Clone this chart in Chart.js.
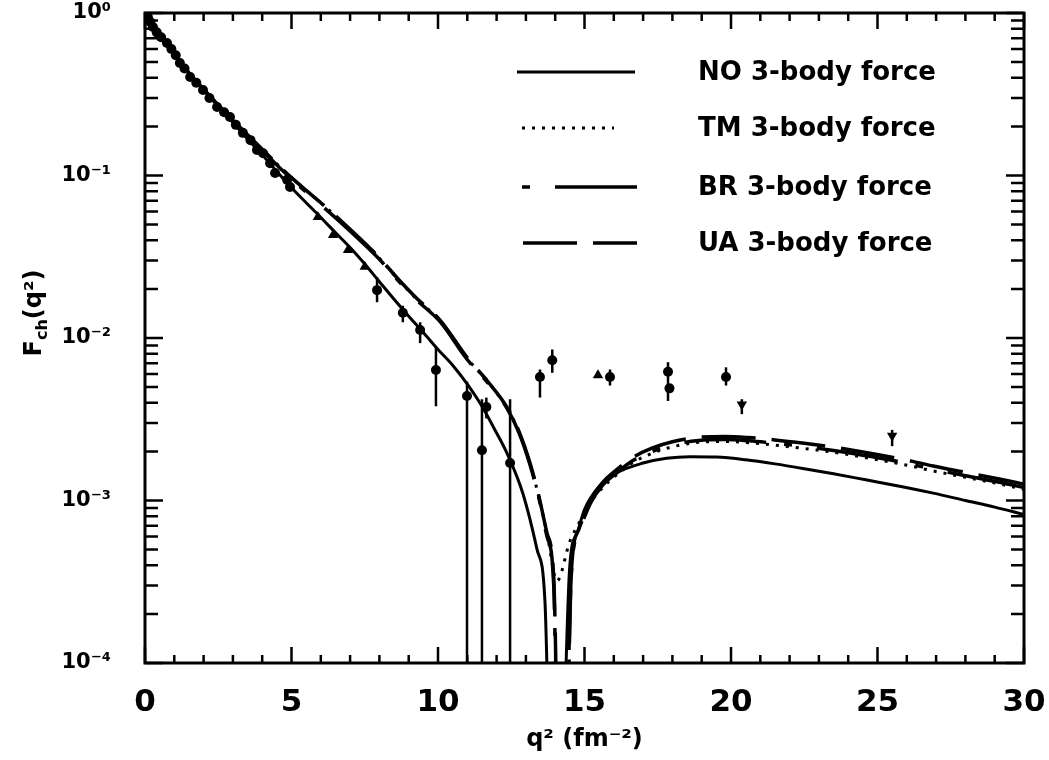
<!DOCTYPE html>
<html><head><meta charset="utf-8">
<script src="https://cdn.jsdelivr.net/npm/chart.js@4/dist/chart.umd.min.js"></script>
<style>html,body{margin:0;padding:0;background:#fff}#wrap{width:1049px;height:760px}</style>
</head><body><div id="wrap"><canvas id="c" width="1049" height="760"></canvas></div>
<script>
// ---- data ----
const xTickValues = [0, 5, 10, 15, 20, 25, 30];
const yDecadeLabels = {1: '10\u2070', 0.1: '10\u207B\u00B9', 0.01: '10\u207B\u00B2', 0.001: '10\u207B\u00B3', 0.0001: '10\u207B\u2074'};
const seriesLabels = ['NO 3-body force', 'TM 3-body force', 'BR 3-body force', 'UA 3-body force'];

const qNO = [0,0.25,0.5,0.75,1,1.25,1.5,1.75,2,2.5,3,3.5,4,4.5,5,5.5,6,6.5,7,7.5,8,8.5,9,9.5,10,10.5,11,11.5,12,12.35,12.9,13.38,13.65,14.0,14.5,14.75,15,15.5,16.1,17,17.8,18.6,19.5,20.5,21.5,22.5,23.5,24.6,25.8,26.9,28,29,30];
const fNO = [1,0.86,0.74,0.645,0.565,0.49,0.425,0.375,0.335,0.265,0.212,0.168,0.134,0.106,0.084,0.068,0.0552,0.0445,0.036,0.0285,0.0222,0.0173,0.0136,0.0108,0.0085,0.0068,0.0052,0.0038,0.0026,0.00196,0.0011,0.0005,0.00024,0.000001,0.0004,0.00063,0.00088,0.00122,0.00148,0.0017,0.00182,0.00186,0.00185,0.00178,0.00168,0.00157,0.00146,0.00134,0.00122,0.00111,0.001,0.00091,0.00082];

const qUA = [0,0.5,1,1.5,2,2.5,3,3.5,4,4.5,5,5.5,6,6.66,7.3,8,8.6,9.28,10.07,10.99,11.7,12.35,12.75,13.14,13.45,13.72,13.95,14.25,14.55,14.8,15.2,15.6,16.1,16.65,17.3,18,18.9,19.8,20.6,21.5,22.5,23.5,24.5,25.4,26.2,26.9,28,29.2,30];
const fUA = [1,0.74,0.565,0.428,0.34,0.272,0.22,0.178,0.145,0.118,0.097,0.081,0.068,0.0532,0.0415,0.0312,0.0235,0.0175,0.0129,0.0076,0.0054,0.00376,0.0027,0.0017,0.00105,0.00063,0.00033,0.000001,0.00036,0.00066,0.001,0.00128,0.00155,0.00184,0.0021,0.0023,0.00245,0.00248,0.00244,0.00236,0.00225,0.00213,0.00199,0.00186,0.00174,0.00163,0.00149,0.00135,0.00126];

const qBR = [0,0.5,1,1.5,2,2.5,3,3.5,4,4.5,5,5.5,6,6.66,7.3,8,8.6,9.28,10.07,10.99,11.7,12.35,12.75,13.14,13.45,13.72,13.95,14.2,14.55,14.8,15.2,15.6,16.1,16.65,17.3,18,18.9,19.8,20.6,21.5,22.5,23.5,24.5,25.4,26.2,26.9,28,29.2,30];
const fBR = [1,0.74,0.563,0.426,0.338,0.27,0.218,0.176,0.143,0.116,0.095,0.079,0.066,0.0518,0.0405,0.0305,0.023,0.0171,0.0126,0.0074,0.0053,0.0037,0.00265,0.00166,0.00102,0.0006,0.0003,0.000001,0.00035,0.00063,0.00096,0.00123,0.00148,0.00176,0.002,0.0022,0.00234,0.00237,0.00233,0.00225,0.00215,0.00203,0.0019,0.00178,0.00166,0.00156,0.00142,0.00129,0.0012];

const qTM = [0,0.5,1,1.5,2,2.5,3,3.5,4,4.5,5,5.5,6,6.66,7.3,8,8.6,9.28,10.07,10.99,11.7,12.35,12.75,13.14,13.45,13.72,14.06,14.5,14.8,15.2,15.6,16.1,16.65,17.3,18,18.9,19.8,20.6,21.5,22.5,23.5,24.5,25.4,26.2,26.9,28,29.2,30];
const fTM = [1,0.74,0.565,0.428,0.34,0.272,0.22,0.178,0.145,0.118,0.097,0.081,0.068,0.053,0.0413,0.031,0.0233,0.0173,0.0128,0.0075,0.0054,0.00372,0.00268,0.00168,0.00104,0.00063,0.00032,0.00056,0.00072,0.00097,0.00119,0.00144,0.00171,0.00195,0.00214,0.00228,0.00231,0.00227,0.00219,0.00209,0.00198,0.00185,0.00173,0.00162,0.00152,0.00139,0.00126,0.00117];

// measured points (circles)
const ptQ  = [0.05,0.1,0.18,0.27,0.4,0.55,0.75,0.9,1.05,1.19,1.35,1.54,1.75,1.98,2.2,2.46,2.7,2.9,3.1,3.34,3.6,3.82,4.03,4.27,4.44,4.85,4.95,7.92,8.8,9.39,9.93,10.99,11.5,11.65,12.46,13.48,13.9,15.87,17.85,17.9,19.83];
const ptF  = [0.97,0.94,0.88,0.82,0.76,0.71,0.653,0.6,0.55,0.492,0.455,0.404,0.372,0.336,0.3,0.264,0.245,0.229,0.205,0.183,0.165,0.1435,0.137,0.119,0.1035,0.094,0.085,0.0197,0.0143,0.0112,0.00635,0.0044,0.00204,0.00376,0.0017,0.00575,0.0073,0.00575,0.0062,0.0049,0.00575];
const ptLo = [null,null,null,null,null,null,null,null,null,null,null,null,null,null,null,null,null,null,null,null,null,null,null,null,null,null,null,0.0166,0.0125,0.0093,0.0038,0.000001,0.000001,0.0032,0.000001,0.0043,0.0061,0.0051,0.0041,null,0.0051];
const ptHi = [null,null,null,null,null,null,null,null,null,null,null,null,null,null,null,null,null,null,null,null,null,null,null,null,null,null,null,0.0237,0.0158,0.0125,0.0087,0.0054,0.0042,0.0043,0.0042,0.0064,0.0085,0.0064,0.0071,null,0.0066];

// measured points (up triangles)
const triQ  = [5.9,6.42,6.93,7.5,15.46];
const triF  = [0.0556,0.043,0.0348,0.0274,0.0059];
const triLo = [null,null,null,null,null];
const triHi = [null,null,null,null,null];

// measured points (down triangles)
const dnQ  = [20.37,25.5];
const dnF  = [0.0039,0.0025];
const dnLo = [0.0034,0.00216];
const dnHi = [0.0042,0.00272];

const toXY = (qs, fs) => qs.map((q, i) => ({x: q, y: fs[i]}));

// ---- plugins ----
const FONT = '"DejaVu Sans", "Liberation Sans", sans-serif';

const frameTicks = {
  id: 'frameTicks',
  afterDatasetsDraw(chart) {
    const {ctx, chartArea: a, scales: {x, y}} = chart;
    ctx.save();
    ctx.strokeStyle = '#000';
    ctx.lineWidth = 2.5;
    ctx.lineCap = 'butt';
    ctx.beginPath();
    for (let v = 0; v <= 30; v++) {
      const len = v % 5 === 0 ? 16 : 8;
      const px = x.getPixelForValue(v);
      ctx.moveTo(px, a.bottom); ctx.lineTo(px, a.bottom - len);
      ctx.moveTo(px, a.top); ctx.lineTo(px, a.top + len);
    }
    for (let e = -4; e <= 0; e++) {
      for (let m = 1; m <= 9; m++) {
        const v = m * Math.pow(10, e);
        if (v > 1.0000001) break;
        const len = m === 1 ? 18 : 13;
        const py = y.getPixelForValue(v);
        ctx.moveTo(a.left, py); ctx.lineTo(a.left + len, py);
        ctx.moveTo(a.right, py); ctx.lineTo(a.right - len, py);
      }
    }
    ctx.stroke();
    ctx.lineWidth = 3;
    ctx.strokeRect(a.left, a.top, a.right - a.left, a.bottom - a.top);
    ctx.restore();
  }
};

const errorBars = {
  id: 'errorBars',
  afterDatasetsDraw(chart) {
    const {ctx, chartArea: a, scales: {x, y}} = chart;
    ctx.save();
    ctx.beginPath();
    ctx.rect(a.left, a.top, a.right - a.left, a.bottom - a.top);
    ctx.clip();
    ctx.strokeStyle = '#000';
    ctx.lineWidth = 2.5;
    chart.data.datasets.forEach(ds => {
      if (!ds.errLo) return;
      ds.data.forEach((p, j) => {
        const lo = ds.errLo[j], hi = ds.errHi[j];
        if (lo == null || hi == null) return;
        const px = x.getPixelForValue(p.x);
        ctx.beginPath();
        ctx.moveTo(px, y.getPixelForValue(lo));
        ctx.lineTo(px, y.getPixelForValue(hi));
        ctx.stroke();
      });
    });
    ctx.restore();
  }
};

const customLegend = {
  id: 'customLegend',
  afterDraw(chart, args, opts) {
    const {ctx} = chart;
    ctx.save();
    ctx.font = 'bold 26px ' + FONT;
    ctx.textBaseline = 'middle';
    ctx.fillStyle = '#000';
    chart.data.datasets.forEach(ds => {
      if (!ds.showLine) return;
      const idx = seriesLabels.indexOf(ds.label);
      const yy = opts.rows[idx];
      const [x0, x1] = opts.samples[idx];
      ctx.strokeStyle = '#000';
      ctx.lineWidth = ds.borderWidth;
      ctx.lineCap = 'butt';
      ctx.setLineDash(ds.borderDash || []);
      ctx.lineDashOffset = opts.dashOffsets[idx];
      ctx.beginPath();
      ctx.moveTo(x0, yy); ctx.lineTo(x1, yy);
      ctx.stroke();
      ctx.setLineDash([]);
      ctx.fillText(ds.label, opts.textX, yy + 1);
    });
    ctx.restore();
  }
};

const yTitle = {
  id: 'yTitle',
  afterDraw(chart, args, opts) {
    const {ctx} = chart;
    ctx.save();
    ctx.translate(opts.x, opts.y);
    ctx.rotate(-Math.PI / 2);
    ctx.fillStyle = '#000';
    ctx.textBaseline = 'alphabetic';
    const big = 'bold 24px ' + FONT, small = 'bold 16px ' + FONT;
    ctx.font = big; const wF = ctx.measureText('F').width;
    ctx.font = small; const wS = ctx.measureText('ch').width;
    ctx.font = big; const wQ = ctx.measureText('(q\u00B2)').width;
    let cx = -(wF + wS + wQ) / 2;
    const base = 9;
    ctx.font = big; ctx.fillText('F', cx, base); cx += wF;
    ctx.font = small; ctx.fillText('ch', cx, base + 6); cx += wS;
    ctx.font = big; ctx.fillText('(q\u00B2)', cx, base);
    ctx.restore();
  }
};

// ---- chart ----
new Chart(document.getElementById('c'), {
  type: 'scatter',
  data: {
    datasets: [
      {label: seriesLabels[0], data: toXY(qNO, fNO), showLine: true, borderColor: '#000', borderWidth: 3, pointRadius: 0, cubicInterpolationMode: 'monotone'},
      {label: seriesLabels[1], data: toXY(qTM, fTM), showLine: true, borderColor: '#000', borderWidth: 3, borderDash: [3, 7], pointRadius: 0, cubicInterpolationMode: 'monotone'},
      {label: seriesLabels[2], data: toXY(qBR, fBR), showLine: true, borderColor: '#000', borderWidth: 3.5, borderDash: [82, 18, 8, 25], pointRadius: 0, cubicInterpolationMode: 'monotone'},
      {label: seriesLabels[3], data: toXY(qUA, fUA), showLine: true, borderColor: '#000', borderWidth: 3.5, borderDash: [54, 16], pointRadius: 0, cubicInterpolationMode: 'monotone'},
      {label: 'data', data: toXY(ptQ, ptF), errLo: ptLo, errHi: ptHi, showLine: false, pointStyle: 'circle', pointRadius: 5, backgroundColor: '#000', borderColor: '#000', borderWidth: 0},
      {label: 'data2', data: toXY(triQ, triF), errLo: triLo, errHi: triHi, showLine: false, pointStyle: 'triangle', pointRadius: 6, backgroundColor: '#000', borderColor: '#000', borderWidth: 0},
      {label: 'data3', data: toXY(dnQ, dnF), errLo: dnLo, errHi: dnHi, showLine: false, pointStyle: 'triangle', rotation: 180, pointRadius: 6, backgroundColor: '#000', borderColor: '#000', borderWidth: 0}
    ]
  },
  options: {
    responsive: false,
    devicePixelRatio: 1,
    animation: false,
    layout: {padding: {left: 0, right: 25, top: 13, bottom: 0}},
    plugins: {
      legend: {display: false},
      tooltip: {enabled: false},
      customLegend: {rows: [72, 128, 187, 243], samples: [[517, 635], [522, 614], [522, 637], [523, 637]], dashOffsets: [0, 0, 100, 0], textX: 698},
      yTitle: {x: 32, y: 313}
    },
    scales: {
      x: {
        type: 'linear', min: 0, max: 30,
        afterFit: s => { s.height = 97; s.paddingLeft = 0; s.paddingRight = 0; },
        afterBuildTicks: s => { s.ticks = xTickValues.map(v => ({value: v})); },
        grid: {display: false},
        border: {display: false},
        ticks: {color: '#000', padding: 13, maxRotation: 0, autoSkip: false, font: {family: FONT, size: 31, weight: 'bold'}},
        title: {display: true, text: 'q\u00B2 (fm\u207B\u00B2)', color: '#000', padding: {top: 0, bottom: 6}, font: {family: FONT, size: 24, weight: 'bold'}}
      },
      y: {
        type: 'logarithmic', min: 0.0001, max: 1,
        afterFit: s => { s.width = 145; s.paddingTop = 0; s.paddingBottom = 0; },
        grid: {display: false},
        border: {display: false},
        ticks: {
          color: '#000', padding: 26, autoSkip: false,
          font: {family: FONT, size: 21, weight: 'bold'},
          callback: v => yDecadeLabels[v] !== undefined ? yDecadeLabels[v] : ''
        }
      }
    }
  },
  plugins: [frameTicks, errorBars, customLegend, yTitle]
});
</script>
</body></html>
